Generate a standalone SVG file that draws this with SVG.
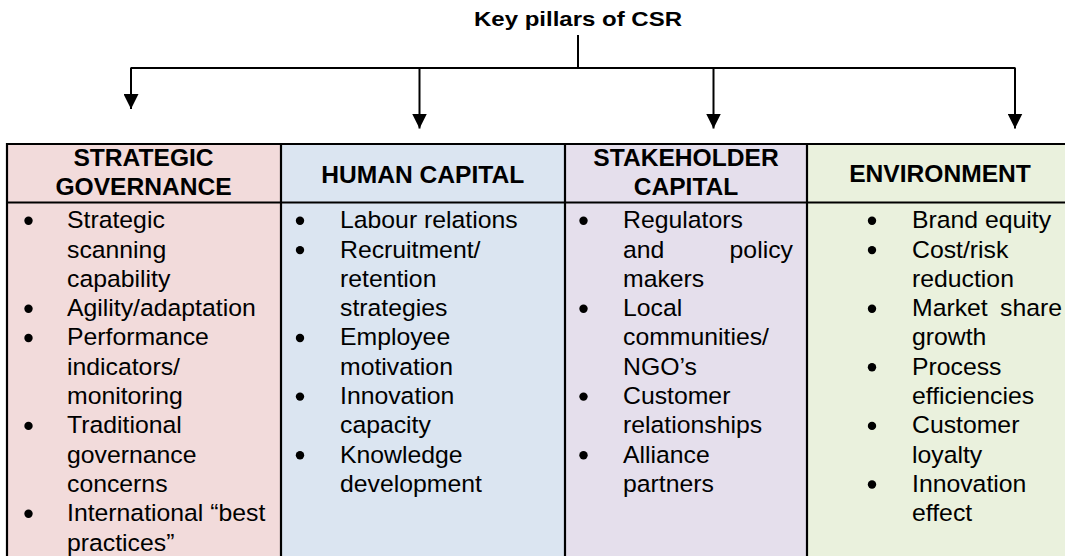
<svg xmlns="http://www.w3.org/2000/svg" width="1065" height="556" viewBox="0 0 1065 556">
<defs>
<style>
.t{font-family:"Liberation Sans",Arial,sans-serif;fill:#000}
.b{font-size:23.5px}
.h{font-size:23px;font-weight:bold}
.ti{font-size:20px;font-weight:bold}
.ln{stroke:#000;stroke-width:2;fill:none}
.bd{stroke:#000;stroke-width:2.2;fill:none}
.dot{fill:#000}
</style>
<marker id="ah" viewBox="0 0 10 10" refX="10" refY="5" markerWidth="15" markerHeight="15" markerUnits="userSpaceOnUse" orient="auto">
<path d="M0,0 L10,5 L0,10 Z" fill="#000"/>
</marker>
</defs>
<rect width="1065" height="556" fill="#fff"/>
<g id="title">
<text class="t ti" text-anchor="middle" transform="translate(578,26) scale(1.2,1)">Key pillars of CSR</text>
</g>
<g id="connectors">
<line class="ln" x1="578" y1="35" x2="578" y2="68"/>
<line class="ln" x1="130.5" y1="68" x2="1015.5" y2="68"/>
<line class="ln" x1="131" y1="68" x2="131" y2="109" marker-end="url(#ah)"/>
<line class="ln" x1="419.5" y1="68" x2="419.5" y2="128.5" marker-end="url(#ah)"/>
<line class="ln" x1="713.5" y1="68" x2="713.5" y2="128.5" marker-end="url(#ah)"/>
<line class="ln" x1="1015" y1="68" x2="1015" y2="128.5" marker-end="url(#ah)"/>
</g>
<g id="strategic-governance">
<rect x="7" y="144" width="274" height="420" fill="#F2DBDB"/>
<text class="t h" text-anchor="middle" transform="translate(143.5,166) scale(1.07,1)">STRATEGIC</text>
<text class="t h" text-anchor="middle" transform="translate(143.5,194.5) scale(1.07,1)">GOVERNANCE</text>
<g class="dot">
<circle cx="28.5" cy="220.8" r="4.2"/><circle cx="28.5" cy="308.7" r="4.2"/><circle cx="28.5" cy="338" r="4.2"/><circle cx="28.5" cy="425.9" r="4.2"/><circle cx="28.5" cy="513.8" r="4.2"/>
</g>
<g class="t b" transform="translate(67,0) scale(1.055,1)">
<text y="228.3">Strategic</text>
<text y="257.6">scanning</text>
<text y="286.9">capability</text>
<text y="316.2">Agility/adaptation</text>
<text y="345.5">Performance</text>
<text y="374.8">indicators/</text>
<text y="404.1">monitoring</text>
<text y="433.4">Traditional</text>
<text y="462.7">governance</text>
<text y="492">concerns</text>
<text y="521.3">International “best</text>
<text y="550.6">practices”</text>
</g>
</g>
<g id="human-capital">
<rect x="281" y="144" width="284" height="420" fill="#DBE5F1"/>
<text class="t h" text-anchor="middle" transform="translate(422.7,182.5) scale(1.07,1)">HUMAN CAPITAL</text>
<g class="dot">
<circle cx="300" cy="220.8" r="4.2"/><circle cx="300" cy="250.1" r="4.2"/><circle cx="300" cy="338" r="4.2"/><circle cx="300" cy="396.6" r="4.2"/><circle cx="300" cy="455.2" r="4.2"/>
</g>
<g class="t b" transform="translate(340,0) scale(1.055,1)">
<text y="228.3">Labour relations</text>
<text y="257.6">Recruitment/</text>
<text y="286.9">retention</text>
<text y="316.2">strategies</text>
<text y="345.5">Employee</text>
<text y="374.8">motivation</text>
<text y="404.1">Innovation</text>
<text y="433.4">capacity</text>
<text y="462.7">Knowledge</text>
<text y="492">development</text>
</g>
</g>
<g id="stakeholder-capital">
<rect x="565" y="144" width="242" height="420" fill="#E5DFEC"/>
<text class="t h" text-anchor="middle" transform="translate(686,166) scale(1.07,1)">STAKEHOLDER</text>
<text class="t h" text-anchor="middle" transform="translate(686,194.5) scale(1.07,1)">CAPITAL</text>
<g class="dot">
<circle cx="583.5" cy="220.8" r="4.2"/><circle cx="583.5" cy="308.7" r="4.2"/><circle cx="583.5" cy="396.6" r="4.2"/><circle cx="583.5" cy="455.2" r="4.2"/>
</g>
<g class="t b" transform="translate(623,0) scale(1.055,1)">
<text y="228.3">Regulators</text>
<text y="257.6">and</text>
<text y="257.6" x="161.1" text-anchor="end">policy</text>
<text y="286.9">makers</text>
<text y="316.2">Local</text>
<text y="345.5">communities/</text>
<text y="374.8">NGO’s</text>
<text y="404.1">Customer</text>
<text y="433.4">relationships</text>
<text y="462.7">Alliance</text>
<text y="492">partners</text>
</g>
</g>
<g id="environment">
<rect x="807" y="144" width="260" height="420" fill="#EAF1DD"/>
<text class="t h" text-anchor="middle" transform="translate(940,182) scale(1.07,1)">ENVIRONMENT</text>
<g class="dot">
<circle cx="872" cy="220.8" r="4.2"/><circle cx="872" cy="250.1" r="4.2"/><circle cx="872" cy="308.7" r="4.2"/><circle cx="872" cy="367.3" r="4.2"/><circle cx="872" cy="425.9" r="4.2"/><circle cx="872" cy="484.5" r="4.2"/>
</g>
<g class="t b" transform="translate(912,0) scale(1.055,1)">
<text y="228.3">Brand equity</text>
<text y="257.6">Cost/risk</text>
<text y="286.9">reduction</text>
<text y="316.2">Market</text>
<text y="316.2" x="142.2" text-anchor="end">share</text>
<text y="345.5">growth</text>
<text y="374.8">Process</text>
<text y="404.1">efficiencies</text>
<text y="433.4">Customer</text>
<text y="462.7">loyalty</text>
<text y="492">Innovation</text>
<text y="521.3">effect</text>
</g>
</g>
<g id="table-borders">
<path class="bd" d="M7,600 V144 H1070 M7,202.5 H1070 M281,144 V600 M565,144 V600 M807,144 V600"/>
</g>
</svg>
